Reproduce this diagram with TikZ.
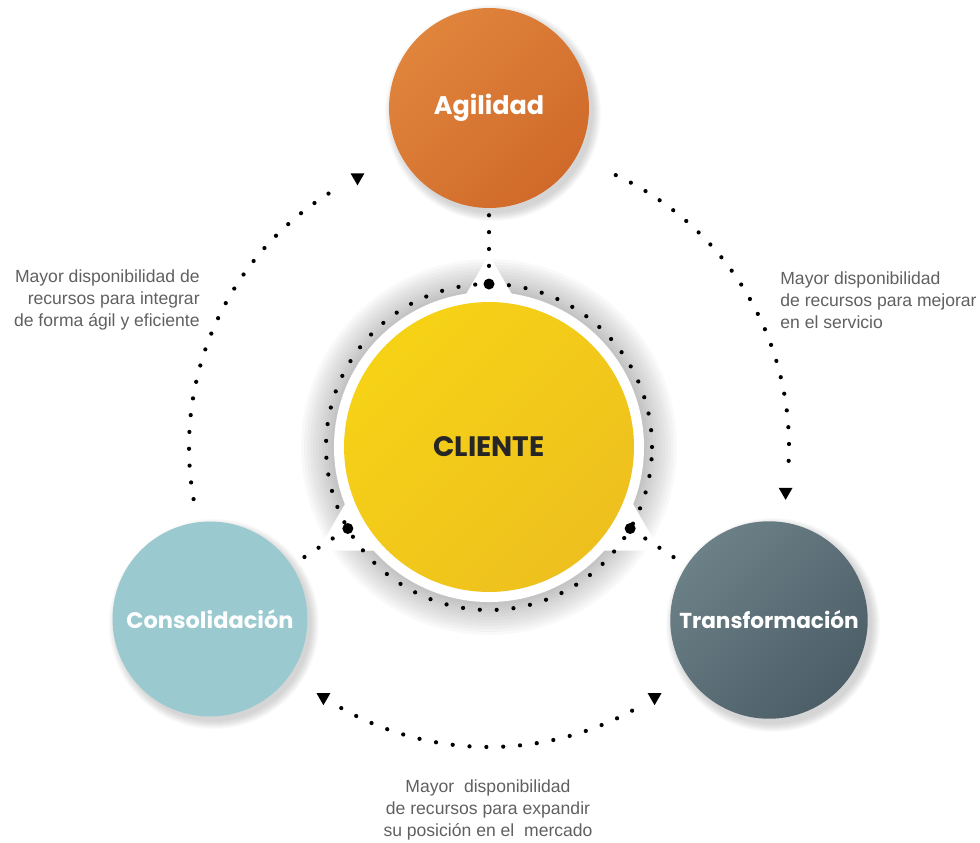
\documentclass[tikz,border=0pt]{standalone}
\usepackage{fontspec}
\setmainfont{Liberation Sans}
\newfontfamily\roundfont{Poppins}
\usetikzlibrary{shapes.geometric,positioning}
\definecolor{agOrange}{RGB}{224,132,60}
\definecolor{agOrangeDk}{RGB}{208,106,42}
\definecolor{coTeal}{RGB}{154,202,208}
\definecolor{trSlate}{RGB}{108,128,136}
\definecolor{trSlateDk}{RGB}{76,94,103}
\definecolor{clYellow}{RGB}{246,210,22}
\definecolor{clYellowDk}{RGB}{238,192,30}
\definecolor{notegray}{RGB}{96,96,96}
\tikzstyle{dotline} = [line width=2.4pt, line cap=round, dash pattern=on 0pt off 9.6pt, color=black]

\begin{document}
\begin{tikzpicture}[x=0.02cm, y=0.02cm,
    phase/.style={circle, inner sep=0pt, minimum size=3.95cm, text=white, font=\roundfont\bfseries\fontsize{14.5}{17}\selectfont},
    bigdot/.style={circle, fill=black, inner sep=0pt, minimum size=0.22cm},
    headmark/.style={regular polygon, regular polygon sides=3, shape border rotate=180, fill=black, inner sep=0pt, minimum size=0.32cm},
    note/.style={text=notegray, inner sep=0pt, font=\fontsize{10}{12.5}\selectfont}]

\useasboundingbox (0,0) rectangle (980,-842);

% Centre and phase positions
\coordinate (c) at (489,-447);
\coordinate (pA) at (489,-108);
\coordinate (pC) at (210,-619);
\coordinate (pT) at (769,-620);

% Soft shadows
\foreach \r in {188,185,...,158}
  \fill[black, opacity=0.024] (c) circle[radius=\r];
\foreach \p/\s in {pA/100,pC/97,pT/99}
  \foreach \k in {0,...,8}
    \fill[black, opacity=0.02] ([shift={(4,-5)}]\p) circle[radius=\s+\k];

% White triangle, ring and centre
\node[regular polygon, regular polygon sides=3, fill=white, inner sep=0pt, minimum size=7.9cm] (tri) at ([shift={(0,-5)}]c) {};
\fill[white] (c) circle[radius=155];
\node[circle, inner sep=0pt, minimum size=5.8cm, top color=clYellow, bottom color=clYellowDk, shading angle=45,
      text=black!85, font=\roundfont\bfseries\fontsize{16}{18}\selectfont] (cli) at (c) {CLIENTE};

% Dotted ring and big dots
\draw[dotline] (c) circle[radius=163];
\node[bigdot] (dA) at ([shift={(90:163)}]c) {};
\node[bigdot] (dC) at ([shift={(210:163)}]c) {};
\node[bigdot] (dT) at ([shift={(330:163)}]c) {};

% Phases
\node[phase, minimum size=4cm, top color=agOrange, bottom color=agOrangeDk, shading angle=45] (agil) at (pA) {Agilidad};
\node[phase, minimum size=3.9cm, fill=coTeal, font=\roundfont\bfseries\fontsize{12.8}{15}\selectfont] (cons) at (pC) {Consolidación};
\node[phase, top color=trSlate, bottom color=trSlateDk, shading angle=45, font=\roundfont\bfseries\fontsize{12.3}{15}\selectfont] (trans) at (pT) {Transformación};

% Radial links
\draw[dotline, shorten <=7pt] (dA) -- (agil);
\draw[dotline, shorten <=7pt] (dC) -- (cons);
\draw[dotline, shorten <=7pt] (dT) -- (trans);

% Outer arcs
\coordinate (arcL) at ([shift={(190:300)}]c);
\coordinate (arcR) at ([shift={(65:300)}]c);
\coordinate (arcB) at ([shift={(240.5:300)}]c);
\draw[dotline] (arcL) arc[start angle=190, end angle=119.5, radius=300];
\draw[dotline] (arcR) arc[start angle=65, end angle=-5, radius=300];
\draw[dotline] (arcB) arc[start angle=240.5, end angle=299.5, radius=300];
\node[headmark] (hL) at ([shift={(116:300)}]c) {};
\node[headmark] (hR) at ([shift={(-8.6:300)}]c) {};
\node[headmark] (hB1) at ([shift={(236.5:300)}]c) {};
\node[headmark] (hB2) at ([shift={(303.5:300)}]c) {};

% Notes
\node[note, align=right, anchor=east] (noteL) at (200,-300) {Mayor disponibilidad de\\recursos para integrar\\de forma ágil y eficiente};
\node[note, align=left, anchor=west] (noteR) at (780,-300) {Mayor disponibilidad\\de recursos para mejorar\\en el servicio};
\node[note, align=center] (noteB) at (488,-810) {Mayor\ \ disponibilidad\\de recursos para expandir\\su posición en el\ \ mercado};

\end{tikzpicture}
\end{document}
